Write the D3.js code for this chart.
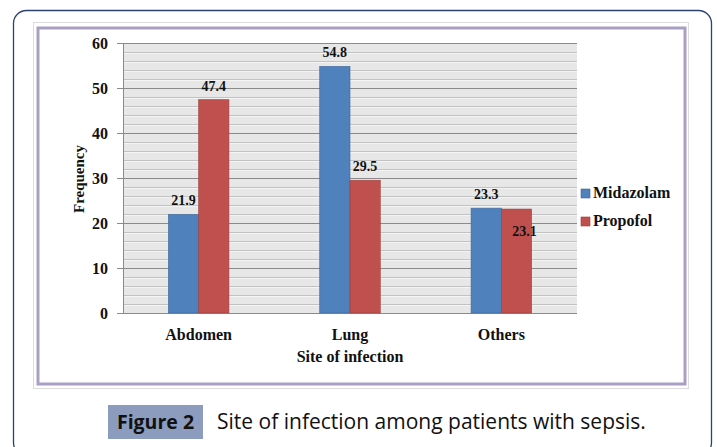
<!DOCTYPE html>
<html lang="en">
<meta charset="utf-8">
<title>Site of infection</title>
<style>
  body { margin: 0; background: #fff; }
  svg { display: block; }
</style>
<body>
<script src="https://cdn.jsdelivr.net/npm/d3@7"></script>
<script>
  // chart data
  var categories = ["Abdomen", "Lung", "Others"];
  var seriesNames = ["Midazolam", "Propofol"];
  var midazolam = [21.9, 54.8, 23.3];
  var propofol = [47.4, 29.5, 23.1];
  var yTicks = [0, 10, 20, 30, 40, 50, 60];
  var colors = ["#4f81bd", "#c0504d"];

  var W = 717, H = 447;
  var plot = { left: 123, right: 577, top: 43, bottom: 313 };

  var svg = d3.select("body").append("svg")
    .attr("width", W)
    .attr("height", H);

  // outer rounded panel
  svg.append("rect")
    .attr("x", 13.5).attr("y", 10.5)
    .attr("width", 698).attr("height", 445)
    .attr("rx", 13)
    .attr("fill", "#fff")
    .attr("stroke", "#2c4270")
    .attr("stroke-width", 1.3);

  // picture frame
  svg.append("rect")
    .attr("x", 33.5).attr("y", 22.5)
    .attr("width", 655).attr("height", 366)
    .attr("fill", "#fff")
    .attr("stroke", "#dcdcdc");
  svg.append("rect")
    .attr("x", 38).attr("y", 28)
    .attr("width", 647).attr("height", 356)
    .attr("fill", "#fff")
    .attr("stroke", "#a99fc4")
    .attr("stroke-width", 3);

  var x0 = d3.scaleBand().domain(categories).range([plot.left, plot.right]);
  var x1 = d3.scaleBand().domain(seriesNames).range([0, x0.bandwidth() * 0.4]);
  var y = d3.scaleLinear().domain([0, 60]).range([plot.bottom, plot.top]);

  // plot background
  svg.append("rect")
    .attr("x", plot.left).attr("y", plot.top)
    .attr("width", plot.right - plot.left)
    .attr("height", plot.bottom - plot.top)
    .attr("fill", "#e7e7e7");

  // minor grid every 2
  var minor = d3.range(2, 60, 2).filter(function(v) { return v % 10 !== 0; });
  svg.append("g").selectAll("line")
    .data(minor)
    .join("line")
    .attr("x1", plot.left).attr("x2", plot.right)
    .attr("y1", function(d) { return Math.round(y(d)) + 0.5; })
    .attr("y2", function(d) { return Math.round(y(d)) + 0.5; })
    .attr("stroke", "#c2c2c2");
  svg.append("g").selectAll("line")
    .data(minor)
    .join("line")
    .attr("x1", plot.left).attr("x2", plot.right)
    .attr("y1", function(d) { return Math.round(y(d)) + 1.5; })
    .attr("y2", function(d) { return Math.round(y(d)) + 1.5; })
    .attr("stroke", "#f4f4f4");

  // y axis with major grid
  var yAxis = svg.append("g")
    .attr("transform", "translate(" + plot.left + ",0)")
    .call(d3.axisLeft(y).tickValues(yTicks).tickSize(6).tickPadding(9));
  yAxis.select(".domain").attr("stroke", "#8a8a8a");
  yAxis.selectAll(".tick line").attr("stroke", "#8a8a8a");
  yAxis.selectAll(".tick").append("line")
    .attr("x1", 0).attr("x2", plot.right - plot.left)
    .attr("stroke", "#8a8a8a");
  yAxis.selectAll(".tick text")
    .attr("fill", "#111")
    .style("font", "bold 16px 'Liberation Serif', serif");

  // bars
  var data = categories.map(function(c, i) {
    return { cat: c, values: [midazolam[i], propofol[i]] };
  });
  var groups = svg.append("g").selectAll("g")
    .data(data)
    .join("g")
    .attr("transform", function(d) {
      return "translate(" + (x0(d.cat) + x0.bandwidth() * 0.3) + ",0)";
    });

  groups.selectAll("rect")
    .data(function(d) {
      return d.values.map(function(v, j) { return { s: seriesNames[j], v: v, j: j }; });
    })
    .join("rect")
    .attr("x", function(d) { return x1(d.s); })
    .attr("y", function(d) { return y(d.v); })
    .attr("width", x1.bandwidth())
    .attr("height", function(d) { return plot.bottom - y(d.v); })
    .attr("fill", function(d) { return colors[d.j]; })
    .attr("stroke", function(d) { return d3.color(colors[d.j]).darker(0.6); })
    .attr("stroke-width", 0.6);

  // value labels (second label drops into the bar when the two are level)
  groups.selectAll("text")
    .data(function(d) {
      return d.values.map(function(v, j) {
        return { s: seriesNames[j], v: v, j: j, other: d.values[1 - j] };
      });
    })
    .join("text")
    .attr("x", function(d) {
      var clash = d.j === 1 && Math.abs(d.v - d.other) < 1;
      return x1(d.s) + x1.bandwidth() / 2 + (clash ? 8 : 0);
    })
    .attr("y", function(d) {
      var clash = d.j === 1 && Math.abs(d.v - d.other) < 1;
      return clash ? y(d.v) + 27 : y(d.v) - 9;
    })
    .attr("text-anchor", "middle")
    .attr("fill", "#111")
    .style("font", "bold 14px 'Liberation Serif', serif")
    .text(function(d) { return d.v; });

  // x labels
  svg.append("g").selectAll("text")
    .data(categories)
    .join("text")
    .attr("x", function(d) { return x0(d) + x0.bandwidth() / 2; })
    .attr("y", 340)
    .attr("text-anchor", "middle")
    .attr("fill", "#111")
    .style("font", "bold 16px 'Liberation Serif', serif")
    .text(function(d) { return d; });

  svg.append("text")
    .attr("x", (plot.left + plot.right) / 2)
    .attr("y", 362)
    .attr("text-anchor", "middle")
    .attr("fill", "#111")
    .style("font", "bold 16px 'Liberation Serif', serif")
    .text("Site of infection");

  svg.append("text")
    .attr("transform", "translate(84,179) rotate(-90)")
    .attr("text-anchor", "middle")
    .attr("fill", "#111")
    .style("font", "bold 15px 'Liberation Serif', serif")
    .text("Frequency");

  // legend
  var legend = svg.append("g").selectAll("g")
    .data(seriesNames)
    .join("g")
    .attr("transform", function(d, i) { return "translate(581," + (189 + i * 28) + ")"; });
  legend.append("rect")
    .attr("width", 9).attr("height", 9)
    .attr("fill", function(d, i) { return colors[i]; })
    .attr("stroke", function(d, i) { return d3.color(colors[i]).darker(0.6); })
    .attr("stroke-width", 0.6);
  legend.append("text")
    .attr("x", 12).attr("y", 9)
    .attr("fill", "#111")
    .style("font", "bold 16px 'Liberation Serif', serif")
    .text(function(d) { return d; });

  // caption
  svg.append("rect")
    .attr("x", 108).attr("y", 405)
    .attr("width", 95).attr("height", 34)
    .attr("fill", "#8c9cbe");
  svg.append("text")
    .attr("x", 155.5).attr("y", 429)
    .attr("text-anchor", "middle")
    .attr("fill", "#111")
    .style("font", "bold 19.5px 'Open Sans', sans-serif")
    .text("Figure 2");
  svg.append("text")
    .attr("x", 217).attr("y", 429)
    .attr("fill", "#111")
    .style("font", "21px 'Open Sans', sans-serif")
    .text("Site of infection among patients with sepsis.");
</script>
</body>
</html>
